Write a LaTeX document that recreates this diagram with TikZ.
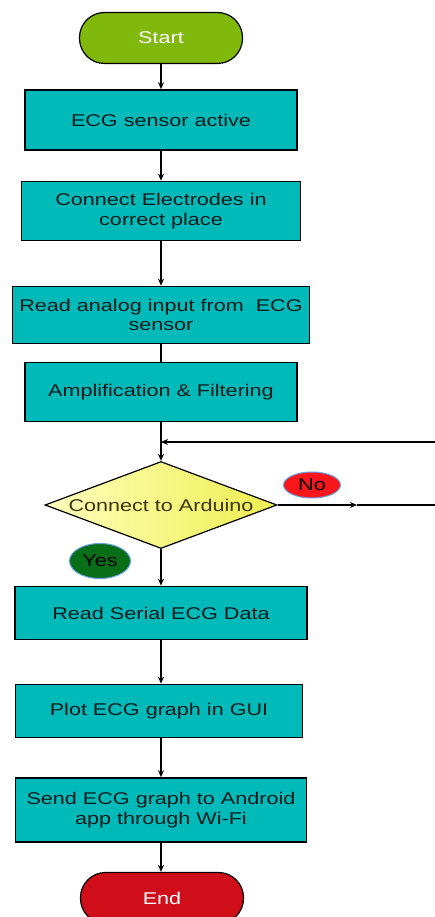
\documentclass[tikz,border=0pt]{standalone}
\usepackage{fontspec}
\setmainfont{Liberation Sans}[FakeStretch=1.27]
\usetikzlibrary{shapes.geometric,arrows.meta}
\definecolor{boxteal}{RGB}{0,186,186}
\definecolor{startgreen}{RGB}{128,184,12}
\definecolor{endred}{RGB}{208,14,26}
\definecolor{yesgreen}{RGB}{8,110,24}
\definecolor{nored}{RGB}{250,22,26}
\definecolor{lblue}{RGB}{100,160,225}
\definecolor{boxtext}{RGB}{8,28,28}
\definecolor{dectext}{RGB}{60,54,8}
\definecolor{dyl}{RGB}{255,255,190}
\definecolor{dyr}{RGB}{238,238,80}
\tikzset{
  txt/.style={font=\fontsize{17}{19.5}\selectfont},
  procbox/.style={draw=black, line width=1.6pt, fill=boxteal, txt, text=boxtext, align=center, inner sep=2pt},
  term/.style={draw=black, line width=1.2pt, rounded corners=25pt, minimum width=163pt, minimum height=51pt, txt, text=white},
  tag/.style={ellipse, draw=lblue, line width=1pt, inner sep=0pt, txt},
  arr/.style={line width=1.3pt, -{Stealth[length=7pt,width=6pt]}},
  conn/.style={line width=1.3pt}
}
\begin{document}
\begin{tikzpicture}[x=1pt,y=-1pt]
\clip (0,0) rectangle (435,917);
\fill[white] (0,0) rectangle (435,917);

\node[term, fill=startgreen] (start) at (161,38) {Start};
\node[procbox, minimum width=272pt, minimum height=60pt] (b1) at (161,120) {ECG sensor active};
\node[procbox, minimum width=279pt, minimum height=59pt] (b2) at (161,211) {Connect Electrodes in\\correct place};
\node[procbox, minimum width=297pt, minimum height=57pt] (b3) at (161,315) {Read analog input from \ ECG\\sensor};
\node[procbox, minimum width=272pt, minimum height=59pt] (b4) at (161,392) {Amplification \& Filtering};

\node[diamond, draw=black, line width=1.2pt, left color=dyl, right color=dyr, minimum width=232pt, minimum height=87pt, inner sep=0pt,
  label={[txt, text=dectext]center:Connect to Arduino}] (dec) at (161,505) {};

\node[tag, fill=nored, minimum width=57pt, minimum height=26pt] (no) at (312,485) {No};
\node[tag, fill=yesgreen, minimum width=61pt, minimum height=35pt] (yes) at (100,561) {Yes};

\node[procbox, minimum width=292pt, minimum height=53pt] (b5) at (161,613) {Read Serial ECG Data};
\node[procbox, minimum width=287pt, minimum height=53pt] (b6) at (159,711) {Plot ECG graph in GUI};
\node[procbox, minimum width=291pt, minimum height=64pt] (b7) at (161,810) {Send ECG graph to Android\\app through Wi-Fi};
\node[term, fill=endred] (end) at (162,898) {End};

\coordinate (fbR) at (435,442);
\coordinate (fbJ) at (161,442);
\coordinate (noMid) at (357,505);
\coordinate (noR) at (435,505);

\draw[arr] (start) -- (b1);
\draw[arr] (b1) -- (b2);
\draw[arr] (b2) -- (b3);
\draw[conn] (b3) -- (b4);
\draw[arr] (b4) -- (dec.north);
\draw[arr] (fbR) -- (fbJ);
\draw[arr] (dec.east) -- (noMid);
\draw[conn] (noMid) -- (noR);
\draw[arr] (dec.south) -- (b5);
\draw[arr] (b5) -- (b6.north -| b5.south);
\draw[arr] (b6.south -| b5.south) -- (b7);
\draw[arr] (b7.south) -- (end.north -| b7.south);
\end{tikzpicture}
\end{document}
